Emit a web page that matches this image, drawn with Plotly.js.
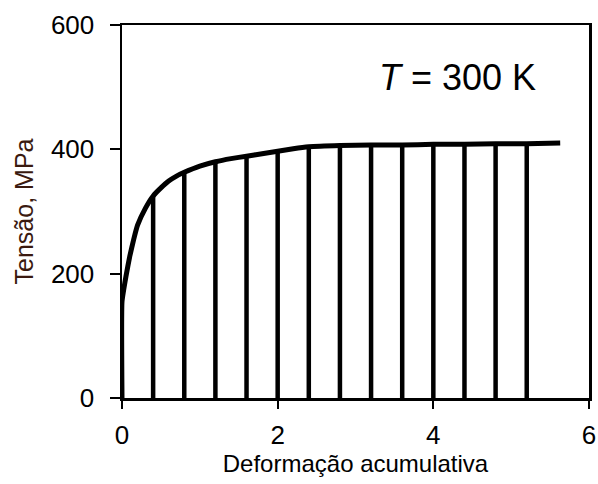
<!DOCTYPE html>
<html>
<head>
<meta charset="utf-8">
<script src="https://cdn.plot.ly/plotly-3.0.1.min.js"></script>
<style>html,body{margin:0;padding:0;background:#fff}#chart{width:598px;height:484px}</style>
</head>
<body>
<div id="chart"></div>
<script>
// Flow curve (accumulated strain vs stress, MPa)
var curveStrain = [0, 0, 0.05, 0.1, 0.15, 0.2, 0.3, 0.4, 0.5, 0.6, 0.7, 0.8, 1.0, 1.2, 1.4, 1.6, 1.8, 2.0, 2.2, 2.4, 2.8, 3.2, 3.6, 4.0, 4.4, 4.8, 5.2, 5.63];
var curveStress = [0, 155, 195, 228, 255, 278, 305, 325, 338, 349, 357, 363, 373, 380, 385, 389, 393, 397, 401, 404, 406, 407, 407, 408, 408, 409, 409, 410];
// Unloading points
var unloadStrain = [0.4, 0.8, 1.2, 1.6, 2.0, 2.4, 2.8, 3.2, 3.6, 4.0, 4.4, 4.8, 5.2];
var unloadStress = [325, 363, 380, 389, 397, 404, 406, 407, 407, 408, 408, 409, 409];
var xTicks = [0, 2, 4, 6];
var yTicks = [0, 200, 400, 600];

var vx = [], vy = [];
for (var i = 0; i < unloadStrain.length; i++) {
  vx.push(unloadStrain[i], unloadStrain[i], null);
  vy.push(0, unloadStress[i], null);
}

var traces = [
  {x: curveStrain, y: curveStress, mode: 'lines', line: {color: '#000', width: 5, shape: 'spline', smoothing: 0.4}, hoverinfo: 'skip'},
  {x: vx, y: vy, mode: 'lines', line: {color: '#000', width: 4.5}, hoverinfo: 'skip'}
];

var layout = {
  width: 598, height: 484,
  margin: {l: 122, r: 9, t: 25, b: 86},
  paper_bgcolor: '#fff', plot_bgcolor: '#fff',
  showlegend: false,
  font: {family: 'Liberation Sans, Arial, sans-serif', color: '#000'},
  xaxis: {
    range: [0, 6], tickvals: xTicks, ticktext: xTicks.map(String),
    showgrid: false, zeroline: false,
    showline: true, mirror: true, linecolor: '#000', linewidth: 2.5,
    ticks: 'outside', ticklen: 8, tickwidth: 2, tickcolor: '#000',
    tickfont: {size: 26, color: '#000'}, ticklabelstandoff: 4,
    title: {text: 'Deformação acumulativa', font: {size: 24, color: '#000'}, standoff: 6}
  },
  yaxis: {
    range: [0, 600], tickvals: yTicks, ticktext: yTicks.map(String),
    showgrid: false, zeroline: false,
    showline: true, mirror: true, linecolor: '#000', linewidth: 2.5,
    ticks: 'outside', ticklen: 10, tickwidth: 2, tickcolor: '#000',
    tickfont: {size: 26, color: '#000'}, ticklabelstandoff: 10,
    title: {text: 'Tensão, MPa', font: {size: 25, color: '#3a1a10'}, standoff: 10}
  },
  annotations: [{
    x: 0.89, y: 0.86, xref: 'paper', yref: 'paper', xanchor: 'right', yanchor: 'middle',
    text: '<i>T</i> = 300 K', showarrow: false,
    font: {size: 36, color: '#000'}
  }]
};

Plotly.newPlot('chart', traces, layout, {displayModeBar: false, staticPlot: true});
</script>
</body>
</html>
